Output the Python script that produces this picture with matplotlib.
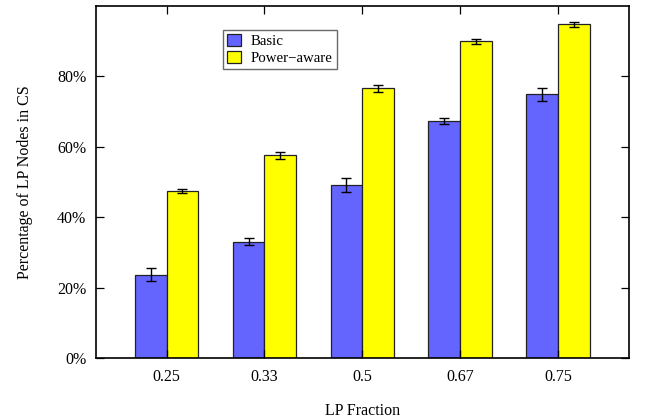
import matplotlib.pyplot as plt
import numpy as np

plt.rcParams["font.family"] = ["Liberation Serif", "DejaVu Serif"]

fractions = ["0.25", "0.33", "0.5", "0.67", "0.75"]
basic = [23.7, 33.0, 49.1, 67.4, 74.9]
basic_err = [1.8, 1.0, 1.9, 0.9, 1.8]
power = [47.4, 57.6, 76.6, 90.0, 94.8]
power_err = [0.5, 1.0, 1.1, 0.7, 0.75]

fig = plt.figure(figsize=(6.49, 4.2), dpi=100)
ax = fig.add_axes([0.148, 0.1476, 0.8217, 0.8381])

x = np.arange(len(fractions))
w = 0.324
err_kw = dict(ecolor="black", elinewidth=1, capsize=3.5, capthick=1)
ax.bar(x - w / 2, basic, w, yerr=basic_err, color="#6464ff", edgecolor="#222222",
       linewidth=0.9, error_kw=err_kw, label="Basic")
ax.bar(x + w / 2, power, w, yerr=power_err, color="#ffff00", edgecolor="#222222",
       linewidth=0.9, error_kw=err_kw, label="Power\u2212aware")

ax.set_xlim(-0.72, 4.73)
ax.set_ylim(0, 100)
ax.set_xticks(x)
ax.set_xticklabels(fractions)
ax.set_yticks([0, 20, 40, 60, 80])
ax.set_yticklabels(["0%", "20%", "40%", "60%", "80%"])
ax.tick_params(direction="in", length=6, width=0.9, top=True, right=True,
               labelsize=11.5, pad=7)
ax.tick_params(axis="x", pad=8)
for s in ax.spines.values():
    s.set_linewidth(1.2)

ax.set_xlabel("LP Fraction", fontsize=11.5, labelpad=13)
ax.set_ylabel("Percentage of LP Nodes in CS", fontsize=11.5, labelpad=17)

leg = ax.legend(loc="upper left", bbox_to_anchor=(0.2376, 0.932), borderaxespad=0,
                fancybox=False, edgecolor="#444444", fontsize=10.7,
                handlelength=0.95, handleheight=0.85, handletextpad=0.65,
                labelspacing=0.15, borderpad=0.3)
leg.get_frame().set_linewidth(1.0)

fig.savefig("out.png", dpi=100)
